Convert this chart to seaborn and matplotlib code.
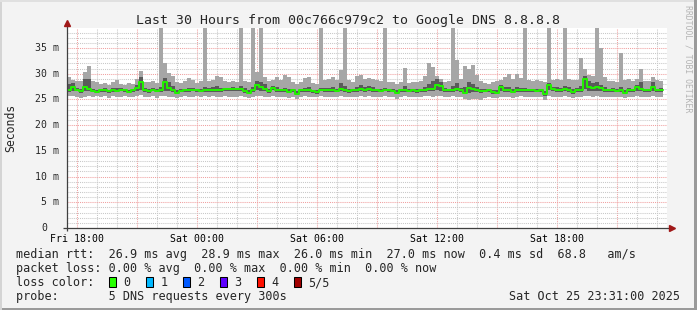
import numpy as np
import matplotlib
matplotlib.use("Agg")
import matplotlib.pyplot as plt
import matplotlib.transforms as mtransforms
from matplotlib.patches import Rectangle
import seaborn as sns

# ---------------- data ----------------
START_HOUR = 17 + 31 / 60.0      # Fri 17:31 (hours since Fri 00:00)
STEP_H = 0.2                      # 12-minute buckets

rtt_min = [25.7, 25.6, 25.5, 25.3, 25.4, 25.6, 25.4, 25.7, 25.5, 25.6,
           25.3, 25.6, 25.4, 25.5, 25.7, 25.4, 25.5, 25.6, 25.8, 25.5,
           25.4, 25.6, 25.3, 25.6, 25.7, 25.5, 25.4, 25.3, 25.5, 25.6,
           25.4, 25.5, 25.6, 25.5, 25.7, 25.4, 25.6, 25.5, 25.4, 25.6,
           25.5, 25.4, 25.5, 25.6, 25.4, 25.2, 25.5, 25.7, 25.6, 25.4,
           25.5, 25.6, 25.4, 25.5, 25.4, 25.3, 25.5, 25.0, 25.5, 25.6,
           25.4, 25.5, 25.4, 25.6, 25.5, 25.4, 25.5, 25.4, 25.6, 25.5,
           25.4, 25.5, 25.4, 25.6, 25.5, 25.6, 25.4, 25.5, 25.4, 25.6,
           25.5, 25.4, 25.1, 25.5, 25.6, 25.4, 25.5, 25.4, 25.5, 25.6,
           25.6, 25.5, 25.7, 25.6, 25.5, 25.4, 25.6, 25.5, 25.4, 25.1,
           24.9, 25.0, 25.1, 24.9, 25.3, 25.4, 25.3, 25.2, 25.5, 25.4,
           25.5, 25.3, 25.5, 25.6, 25.5, 25.4, 25.5, 25.4, 25.5, 24.9,
           25.7, 25.5, 25.4, 25.5, 25.6, 25.4, 25.3, 25.4, 25.5, 25.7,
           25.6, 25.5, 25.6, 25.5, 25.4, 25.5, 25.4, 25.5, 25.4, 25.2,
           25.4, 25.5, 25.6, 25.5, 25.4, 25.5, 25.6, 25.4, 25.5]

rtt_low = [26.4, 26.6, 26.6, 26.3, 26.6, 26.6, 26.4, 26.2, 26.5, 26.5,
           26.3, 26.5, 26.4, 26.6, 26.5, 26.2, 26.5, 26.7, 26.9, 26.5,
           26.3, 26.6, 26.4, 26.5, 26.7, 26.6, 26.5, 26.0, 26.4, 26.5,
           26.4, 26.6, 26.5, 26.4, 26.5, 26.5, 26.5, 26.5, 26.5, 26.7,
           26.7, 26.6, 26.7, 26.7, 26.3, 26.0, 26.5, 26.8, 26.7, 26.6,
           26.3, 26.8, 26.5, 26.5, 26.4, 26.2, 26.5, 25.8, 26.5, 26.5,
           26.4, 26.3, 26.1, 26.6, 26.5, 26.4, 26.5, 26.4, 26.6, 26.5,
           26.3, 26.5, 26.5, 26.6, 26.5, 26.6, 26.4, 26.5, 26.4, 26.6,
           26.5, 26.4, 26.0, 26.5, 26.5, 26.4, 26.5, 26.3, 26.5, 26.5,
           26.6, 26.6, 26.8, 26.7, 26.5, 26.5, 26.5, 26.6, 26.4, 26.0,
           26.3, 26.4, 26.4, 26.2, 26.4, 26.5, 26.1, 26.0, 26.7, 26.5,
           26.4, 26.2, 26.5, 26.5, 26.5, 26.5, 26.5, 26.4, 26.5, 25.7,
           26.8, 26.6, 26.5, 26.5, 26.6, 26.4, 26.1, 26.4, 26.5, 27.0,
           26.7, 26.6, 26.7, 26.7, 26.5, 26.5, 26.5, 26.4, 26.5, 26.0,
           26.5, 26.5, 26.7, 26.6, 26.5, 26.5, 26.7, 26.5, 26.5]

rtt_median = [26.9, 27.5, 26.9, 26.6, 27.4, 27.1, 26.7, 26.5, 26.8, 26.8,
              26.6, 26.8, 26.7, 26.9, 26.8, 26.5, 26.8, 27.2, 28.3, 26.8,
              26.6, 26.9, 26.7, 26.9, 28.3, 27.3, 26.9, 26.3, 26.7, 26.8,
              26.8, 26.9, 26.8, 26.7, 26.9, 26.8, 26.9, 26.9, 26.8, 27.0,
              27.0, 27.0, 27.0, 27.1, 26.6, 26.3, 26.9, 27.8, 27.4, 27.0,
              26.6, 27.3, 26.9, 26.8, 26.8, 26.5, 26.8, 26.0, 26.8, 26.9,
              26.8, 26.6, 26.4, 26.9, 26.8, 26.8, 26.9, 26.7, 27.0, 26.8,
              26.6, 26.8, 26.9, 27.0, 26.8, 27.0, 26.8, 26.8, 26.7, 26.9,
              26.8, 26.7, 26.3, 26.8, 26.9, 26.7, 26.8, 26.6, 26.8, 26.9,
              27.0, 27.1, 27.8, 27.6, 26.9, 26.8, 26.9, 27.0, 26.8, 26.3,
              27.3, 27.1, 26.8, 26.6, 26.7, 26.8, 26.4, 26.3, 27.4, 26.9,
              26.8, 26.5, 26.9, 26.8, 26.9, 26.8, 26.8, 26.7, 26.8, 26.0,
              27.8, 27.0, 26.9, 26.8, 27.0, 26.8, 26.4, 26.8, 26.9, 28.9,
              27.5, 27.2, 27.4, 27.3, 26.9, 26.8, 26.8, 26.7, 26.8, 26.3,
              26.8, 26.8, 27.5, 27.1, 26.8, 26.8, 27.4, 26.8, 26.9]

rtt_high = [28.0, 28.2, 27.3, 27.0, 28.9, 29.0, 27.1, 26.9, 27.1, 27.2,
            26.9, 27.2, 27.3, 27.2, 27.1, 26.9, 27.1, 27.9, 29.3, 27.2,
            27.0, 27.2, 27.0, 27.5, 29.2, 28.4, 27.6, 26.8, 27.0, 27.1,
            27.3, 27.2, 27.1, 27.0, 27.4, 27.2, 27.5, 27.6, 27.2, 27.3,
            27.3, 27.4, 27.3, 27.6, 27.2, 26.8, 27.5, 28.6, 28.3, 28.0,
            27.0, 27.7, 27.4, 27.1, 27.3, 27.0, 27.1, 26.6, 27.1, 27.3,
            27.4, 26.9, 26.8, 27.3, 27.2, 27.3, 27.4, 27.1, 28.2, 27.6,
            27.0, 27.1, 27.5, 27.8, 27.4, 27.6, 27.4, 27.1, 27.0, 27.3,
            27.1, 27.0, 26.8, 27.1, 27.7, 27.0, 27.1, 27.0, 27.1, 27.5,
            28.1, 28.6, 28.9, 28.4, 27.2, 27.1, 27.6, 28.2, 27.2, 27.4,
            28.4, 28.1, 27.5, 27.0, 27.0, 27.1, 26.8, 26.9, 27.9, 27.4,
            27.5, 27.0, 27.5, 27.3, 27.3, 27.1, 27.1, 27.0, 27.1, 26.7,
            28.2, 27.5, 27.4, 27.2, 27.6, 27.5, 27.0, 27.3, 27.7, 29.5,
            28.5, 28.2, 28.3, 27.9, 27.4, 27.1, 27.2, 27.0, 27.5, 26.9,
            27.2, 27.1, 27.9, 28.4, 27.1, 27.1, 28.3, 27.1, 27.2]

rtt_max = [29.3, 28.8, 28.5, 28.6, 30.3, 31.5, 28.5, 28.3, 28.0, 28.2,
           27.9, 28.4, 28.7, 28.1, 27.9, 28.2, 28.0, 29.0, 30.6, 28.3,
           28.4, 28.6, 28.2, 45.0, 32.0, 30.2, 29.6, 28.3, 28.2, 28.6,
           29.2, 28.7, 28.2, 28.5, 45.0, 28.6, 28.8, 29.5, 29.3, 28.5,
           28.3, 28.6, 28.4, 45.0, 28.5, 28.3, 45.0, 30.4, 45.0, 29.4,
           28.5, 28.8, 29.3, 28.8, 29.7, 29.4, 28.3, 28.1, 28.4, 29.1,
           29.4, 28.2, 28.0, 45.0, 28.8, 28.9, 29.3, 28.7, 30.7, 45.0,
           28.7, 28.4, 29.5, 29.8, 29.0, 29.2, 29.0, 28.8, 28.6, 45.0,
           28.4, 28.3, 28.1, 28.4, 31.1, 28.2, 28.3, 28.4, 28.5, 29.5,
           32.1, 31.3, 29.6, 29.0, 28.3, 28.5, 45.0, 32.7, 29.0, 31.5,
           31.0, 31.7, 29.8, 28.5, 28.2, 28.1, 28.4, 28.6, 28.8, 29.4,
           29.9, 28.9, 29.9, 29.2, 45.0, 28.8, 28.6, 28.7, 28.5, 28.4,
           45.0, 28.8, 29.0, 28.7, 45.0, 28.9, 28.8, 28.8, 33.0, 31.0,
           29.7, 29.6, 45.0, 35.0, 29.4, 28.5, 28.6, 28.4, 34.0, 28.8,
           28.9, 28.5, 28.9, 31.0, 28.6, 28.5, 29.3, 28.7, 28.5]

x_tick_hours = [18, 24, 30, 36, 42]
x_tick_labels = ["Fri 18:00", "Sat 00:00", "Sat 06:00", "Sat 12:00", "Sat 18:00"]
y_tick_values = [0, 5, 10, 15, 20, 25, 30, 35]
y_tick_labels = ["0", "5 m", "10 m", "15 m", "20 m", "25 m", "30 m", "35 m"]

title = "Last 30 Hours from 00c766c979c2 to Google DNS 8.8.8.8"
legend_lines = [
    "median rtt:  26.9 ms avg  28.9 ms max  26.0 ms min  27.0 ms now  0.4 ms sd  68.8   am/s",
    "packet loss: 0.00 % avg  0.00 % max  0.00 % min  0.00 % now",
    "loss color:",
    "probe:       5 DNS requests every 300s",
]
loss_labels = ["0", "1", "2", "3", "4", "5/5"]
loss_colors = ["#26ff00", "#00b8ff", "#0059ff", "#5e00ff", "#ff1000", "#a10000"]
timestamp = "Sat Oct 25 23:31:00 2025"
watermark = "RRDTOOL / TOBI OETIKER"

# ---------------- style ----------------
sns.set_style("white")
MONO = ["DejaVu Sans Mono"]
plt.rcParams["font.family"] = MONO
plt.rcParams["axes.unicode_minus"] = False

W, H = 697, 310
fig = plt.figure(figsize=(W / 100, H / 100), dpi=100, facecolor="#f3f3f3")

def fx(px):
    return px / W

def fy(py):
    return 1 - py / H

AX_L, AX_R, AX_T, AX_B = 67, 667, 28, 228
ax = fig.add_axes([fx(AX_L), fy(AX_B), (AX_R - AX_L) / W, (AX_B - AX_T) / H])
ax.set_facecolor("white")
for s in ax.spines.values():
    s.set_visible(False)

YMAX = 38.9
X0 = START_HOUR
X1 = START_HOUR + 30
ax.set_xlim(X0, X1)
ax.set_ylim(0, YMAX)

# smoke + median
n = len(rtt_median)
t_edges = START_HOUR + STEP_H * np.arange(n + 1)

def stepify(v):
    v = np.asarray(v, dtype=float)
    return np.append(v, v[-1])

LIGHT = "#a6a6a6"
DARK = "#5a5a5a"
GREEN = "#22f000"
ax.fill_between(t_edges, stepify(rtt_min), stepify(rtt_max), step="post",
                color=LIGHT, lw=0, zorder=2, antialiased=False)
ax.fill_between(t_edges, stepify(rtt_low), stepify(rtt_high), step="post",
                color=DARK, lw=0, zorder=3, antialiased=False)
sns.lineplot(x=t_edges, y=stepify(rtt_median), drawstyle="steps-post",
             color=GREEN, lw=1.45, ax=ax, zorder=4)
ax.set_xlabel("")
ax.set_ylabel("")

# grid & ticks
major_x = np.arange(18, 46, 3)
minor_x = [h for h in range(18, 48) if h % 3 != 0]
ax.set_xticks(major_x)
ax.set_xticklabels([x_tick_labels[x_tick_hours.index(h)] if h in x_tick_hours else ""
                    for h in major_x])
ax.set_xticks(minor_x, minor=True)
ax.set_yticks(y_tick_values)
ax.set_yticks([v for v in range(1, 39) if v % 5 != 0], minor=True)

dot = (0, (1, 1))
ax.grid(which="major", color="#f0a0a0", linestyle=dot, lw=0.75)
ax.grid(which="minor", color="#c8c8c8", linestyle=dot, lw=0.75)
ax.set_axisbelow(True)
ax.tick_params(which="major", length=2, width=0.75, color="#e07070", direction="out",
               labelsize=7.1, pad=2.5, labelcolor="black")
ax.tick_params(which="minor", length=2, width=0.75, color="#b0b0b0", direction="out")
ax.tick_params(axis="y", labelleft=False)

# y tick labels (right aligned, unitless label aligned on digit column)
char_w = 5.95
for v, lab in zip(y_tick_values, y_tick_labels):
    extra = 0 if " " in lab else 2 * char_w
    tr = mtransforms.blended_transform_factory(ax.transAxes, ax.transData) + \
        mtransforms.ScaledTranslation(-(8 + extra) / 100, 0, fig.dpi_scale_trans)
    ax.text(0, v, lab, transform=tr, ha="right", va="center", fontsize=7.1,
            family=MONO)

# axis lines with arrows
AXC = "#404040"
ARC = "#a01818"
ax.plot([-4 / 600, 1 + 5 / 600], [0, 0], color=AXC, lw=0.9, transform=ax.transAxes,
        clip_on=False, zorder=6, solid_capstyle="butt")
ax.plot([0, 0], [-3 / 200, 1 + 4 / 200], color=AXC, lw=0.9, transform=ax.transAxes,
        clip_on=False, zorder=6, solid_capstyle="butt")
ax.plot([1 + 5 / 600], [0], marker=">", ms=4, color=ARC, mec=ARC, transform=ax.transAxes,
        clip_on=False, zorder=7)
ax.plot([0], [1 + 5 / 200], marker="^", ms=4, color=ARC, mec=ARC, transform=ax.transAxes,
        clip_on=False, zorder=7)

# texts
fig.text(fx(348), fy(24), title, ha="center", va="baseline", fontsize=9.5, family=MONO)
fig.text(fx(11), fy(128), "Seconds", rotation=90, ha="center", va="center",
         fontsize=8.3, family=MONO)
fig.text(fx(688), fy(59), watermark, rotation=270, ha="center", va="center",
         fontsize=5.9, family=MONO, color="#b4b4b4")

baselines = [258, 272, 286, 300]
for line, b in zip(legend_lines, baselines):
    fig.text(fx(16), fy(b), line, ha="left", va="baseline", fontsize=8.5, family=MONO)

for k, (lab, col) in enumerate(zip(loss_labels, loss_colors)):
    x0 = 109 + 36.9 * k
    fig.add_artist(Rectangle((fx(x0), fy(287)), 7 / W, 10 / H, transform=fig.transFigure,
                             facecolor=col, edgecolor="black", lw=0.75))
    fig.text(fx(x0 + 14.5), fy(286), lab, ha="left", va="baseline", fontsize=8.5,
             family=MONO)

fig.text(fx(680), fy(300), timestamp, ha="right", va="baseline", fontsize=8.5, family=MONO)

# frame around the canvas
fig.add_artist(Rectangle((0, 0), 1, 2 / H, transform=fig.transFigure,
                         facecolor="#9a9a9a", lw=0))
fig.add_artist(Rectangle((1 - 3 / W, 0), 3 / W, 1, transform=fig.transFigure,
                         facecolor="#9a9a9a", lw=0))
fig.add_artist(Rectangle((0, 0), 2 / W, 1, transform=fig.transFigure,
                         facecolor="#d4d4d4", lw=0))
fig.add_artist(Rectangle((0, 1 - 2 / H), 1 - 3 / W, 2 / H, transform=fig.transFigure,
                         facecolor="#e0e0e0", lw=0))

fig.savefig("out.png", dpi=100, facecolor=fig.get_facecolor())
